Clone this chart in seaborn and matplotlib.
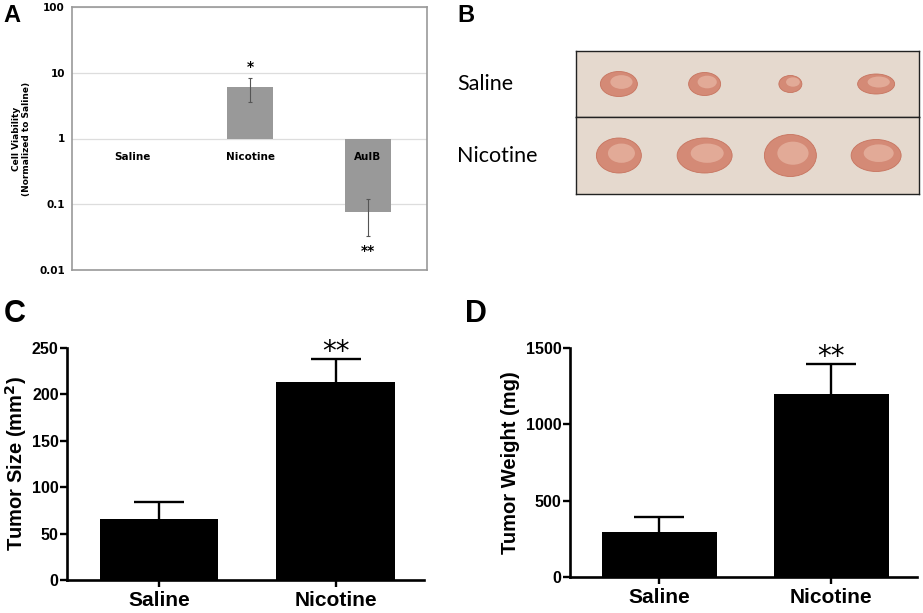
import numpy as np
import pandas as pd
import seaborn as sns
import matplotlib.pyplot as plt
from matplotlib.patches import Ellipse

# Panel A: cell viability (normalized to saline), log scale
grupos_a = ['Saline', 'Nicotine', 'AuIB']
viabilidad = [1.0, 6.0, 0.077]
viabilidad_err = [0.0, 2.4, 0.044]
marcas_a = ['', '*', '**']

# Panel B: apparent tumor sizes in the photo (width, height)
filas_b = ['Saline', 'Nicotine']
tumor_ancho = [[37, 32, 23, 37], [45, 55, 52, 50]]
tumor_alto = [[25, 23, 17, 20], [35, 35, 42, 32]]

# Panel C / D: tumor size and weight
grupos = ['Saline', 'Nicotine']
tamano = [66, 213]
tamano_err = [18, 25]
peso = [295, 1200]
peso_err = [98, 195]

sns.set_style('white')
plt.rcParams['font.family'] = ['Liberation Sans', 'DejaVu Sans']
for k in ['text.color', 'axes.labelcolor', 'xtick.color', 'ytick.color']:
    plt.rcParams[k] = 'black'

W, H = 923, 613
fig = plt.figure(figsize=(W / 100, H / 100), dpi=100)


def caja(l, t, r, b):
    return [l / W, (H - b) / H, (r - l) / W, (b - t) / H]


# ---------------- A ----------------
axA = fig.add_axes(caja(72, 7, 427, 270))
axA.set_yscale('log')
alturas = [v - 1 for v in viabilidad]
axA.bar(grupos_a, alturas, bottom=1, width=0.39, color='#999999', linewidth=0,
        edgecolor='none', zorder=3)
axA.errorbar(grupos_a[1:], viabilidad[1:], yerr=viabilidad_err[1:], fmt='none',
             ecolor='#555555', elinewidth=0.8, capsize=1.5, capthick=0.8, zorder=4)
axA.set_ylim(0.01, 100)
axA.set_xlim(-0.51, 2.5)
axA.set_yticks([0.01, 0.1, 1, 10, 100])
axA.set_yticklabels(['0.01', '0.1', '1', '10', '100'], fontfamily='DejaVu Sans',
                    fontweight='bold', fontsize=7.5)
axA.minorticks_off()
axA.yaxis.grid(True, color='#dddddd', linewidth=0.9, zorder=0)
axA.set_axisbelow(True)
axA.tick_params(axis='y', length=0, pad=5)
axA.set_xticks([])
for s in axA.spines.values():
    s.set_color('#999999')
    s.set_linewidth(1.2)
axA.set_ylabel('Cell Viability\n(Normalized to Saline)', fontfamily='DejaVu Sans',
               fontweight='bold', fontsize=6.5, labelpad=6, linespacing=1.1)
for i, g in enumerate(grupos_a):
    axA.annotate(g, xy=(i, 1), xytext=(0, -13), textcoords='offset points',
                 ha='center', va='center', fontfamily='DejaVu Sans',
                 fontweight='bold', fontsize=7.5, zorder=5)
axA.annotate(marcas_a[1], xy=(1, viabilidad[1] + viabilidad_err[1]), xytext=(0, 3),
             textcoords='offset points', ha='center', va='bottom',
             fontfamily='DejaVu Sans', fontweight='bold', fontsize=10)
axA.annotate(marcas_a[2], xy=(2, viabilidad[2] - viabilidad_err[2]), xytext=(0, -6),
             textcoords='offset points', ha='center', va='top',
             fontfamily='DejaVu Sans', fontweight='bold', fontsize=10)

# ---------------- B ----------------
filas_px = [(51, 117), (117, 194)]
for k, fila in enumerate(filas_b):
    t, b = filas_px[k]
    ax = fig.add_axes(caja(576, t, 919, b))
    ax.set_facecolor('#e5d9ce')
    ax.set_xlim(-0.5, 3.5)
    ax.set_ylim(0, 1)
    ax.set_xticks([])
    ax.set_yticks([])
    for s in ax.spines.values():
        s.set_color('#222222')
        s.set_linewidth(1.0)
    bb = ax.get_window_extent()
    px_x = bb.width / 4.0
    px_y = bb.height
    for j in range(len(tumor_ancho[k])):
        w = tumor_ancho[k][j] / px_x
        h = tumor_alto[k][j] / px_y
        ax.add_patch(Ellipse((j, 0.5), w, h, facecolor='#d48a76', edgecolor='#c7745f',
                             linewidth=0.6))
        ax.add_patch(Ellipse((j + 0.03, 0.53), w * 0.6, h * 0.55,
                             facecolor='#e8b8a6', edgecolor='none', alpha=0.7))
    ax.text(-0.347, 0.5, fila, transform=ax.transAxes, ha='left', va='center',
            fontfamily='Lato', fontsize=15.5, color='black')

# ---------------- C & D ----------------
def barras(rect, vals, errs, ylim, yticks, ylabel, lpad):
    ax = fig.add_axes(rect)
    df = pd.DataFrame({'grupo': grupos, 'valor': vals})
    sns.barplot(data=df, x='grupo', y='valor', color='black', width=0.67,
                errorbar=None, linewidth=0, ax=ax, zorder=2)
    eb = ax.errorbar(range(len(vals)), vals, yerr=[np.zeros(len(errs)), errs], fmt='none',
                     ecolor='black', elinewidth=1.7, capsize=18, capthick=1.7, zorder=3)
    # only the upper cap, as in GraphPad
    eb[1][0].set_visible(False)
    ax.set_xlim(-0.52, 1.5)
    ax.set_ylim(*ylim)
    ax.set_yticks(yticks)
    sns.despine(ax=ax)
    for s in ['left', 'bottom']:
        ax.spines[s].set_linewidth(1.9)
        ax.spines[s].set_color('black')
    ax.tick_params(axis='both', direction='out', length=5, width=1.7, color='black',
                   bottom=True, left=True)
    ax.tick_params(axis='y', labelsize=11.5, pad=1)
    ax.tick_params(axis='x', labelsize=15, pad=3)
    for lab in ax.get_yticklabels() + ax.get_xticklabels():
        lab.set_fontweight('bold')
    ax.set_xlabel('')
    ax.set_ylabel(ylabel, fontsize=14.5, fontweight='bold', labelpad=lpad)
    ax.annotate('**', xy=(1, vals[1] + errs[1]), xytext=(0, -0.5), textcoords='offset points',
                ha='center', va='baseline', fontsize=20, fontfamily='DejaVu Sans')
    return ax


barras(caja(67, 348, 424, 580), tamano, tamano_err, (0, 250),
       [0, 50, 100, 150, 200, 250], 'Tumor Size (mm$^\\mathbf{2}$)', 2)
barras(caja(570, 348, 917, 577), peso, peso_err, (0, 1500),
       [0, 500, 1000, 1500], 'Tumor Weight (mg)', 4)

# Panel letters
for letra, (x, y, fs) in zip('ABCD', [(3, 4, 17), (457, 4, 17), (4, 299, 22), (465, 299, 22)]):
    fig.text(x / W, 1 - y / H, letra, ha='left', va='top', fontsize=fs, fontweight='bold')

fig.savefig('out.png', dpi=100)
